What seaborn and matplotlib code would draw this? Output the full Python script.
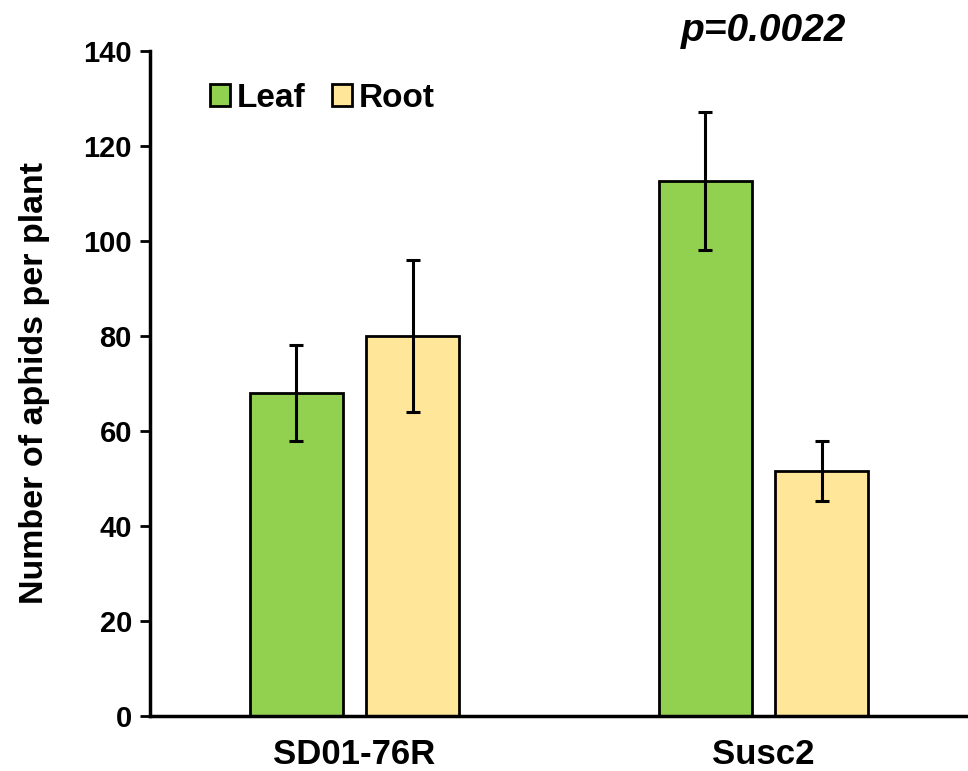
import matplotlib
matplotlib.use("Agg")
import matplotlib.pyplot as plt
import seaborn as sns
import pandas as pd
import numpy as np
from matplotlib.patches import Patch

genotypes = ["SD01-76R", "SD01-76R", "Susc2", "Susc2"]
tissues = ["Leaf", "Root", "Leaf", "Root"]
means = [68.0, 80.0, 112.7, 51.6]
errors = [10.0, 16.0, 14.5, 6.3]
colors = {"Leaf": "#92d050", "Root": "#ffe699"}
ylabel = "Number of aphids per plant"
pvalue_text = "p=0.0022"

df = pd.DataFrame({"genotype": genotypes, "tissue": tissues, "mean": means, "err": errors})

sns.set_theme(style="white")
plt.rcParams["font.family"] = ["Liberation Sans", "DejaVu Sans"]
plt.rcParams["font.weight"] = "bold"
plt.rcParams["text.color"] = "black"
plt.rcParams["axes.labelcolor"] = "black"
plt.rcParams["xtick.color"] = "black"
plt.rcParams["ytick.color"] = "black"

fig = plt.figure(figsize=(9.68, 7.71), dpi=100)
ax = fig.add_axes([0.155, 0.0713, 0.845, 0.8626])

sns.barplot(data=df, x="genotype", y="mean", hue="tissue", palette=colors,
            width=0.57, gap=0.2, errorbar=None, edgecolor="black", linewidth=2,
            saturation=1, ax=ax, legend=False)

# error bars at bar centers
xs, ys, es = [], [], []
for p in ax.patches:
    cx = p.get_x() + p.get_width() / 2
    h = p.get_height()
    idx = int(np.argmin([abs(h - m) for m in means]))
    xs.append(cx); ys.append(h); es.append(errors[idx])
ax.errorbar(xs, ys, yerr=es, fmt="none", ecolor="black", elinewidth=2.2,
            capsize=4.7, capthick=2.2, zorder=5)

ax.set_xlim(-0.5, 1.5)
ax.set_ylim(0, 140)
ax.set_yticks(range(0, 141, 20))
ax.set_xlabel("")
ax.set_ylabel(ylabel, fontsize=24.5, fontweight="bold", labelpad=24, color="black")
ax.tick_params(axis="y", labelsize=21, length=7, width=2, direction="out", left=True, pad=6,
               colors="black")
ax.tick_params(axis="x", labelsize=25, length=0, pad=16, colors="black")
for lab in ax.get_xticklabels() + ax.get_yticklabels():
    lab.set_fontweight("bold")

for s in ["top", "right"]:
    ax.spines[s].set_visible(False)
ax.spines["left"].set_linewidth(2.5)
ax.spines["bottom"].set_linewidth(2.5)
ax.spines["left"].set_color("black")
ax.spines["bottom"].set_color("black")

handles = [Patch(facecolor=colors[t], edgecolor="black", linewidth=2, label=t) for t in ["Leaf", "Root"]]
ax.legend(handles=handles, loc="center left", bbox_to_anchor=(0.073, 0.929), ncol=2,
          frameon=False, handlelength=0.6, handleheight=0.6, borderpad=0, borderaxespad=0,
          handletextpad=0.2, columnspacing=0.8, prop={"weight": "bold", "size": 24})

ax.text(1.0, 1.03, pvalue_text, transform=ax.get_xaxis_transform(), ha="center", va="center",
        fontsize=28, fontweight="bold", fontstyle="italic", clip_on=False, color="black")

fig.savefig("out.png", dpi=100)
